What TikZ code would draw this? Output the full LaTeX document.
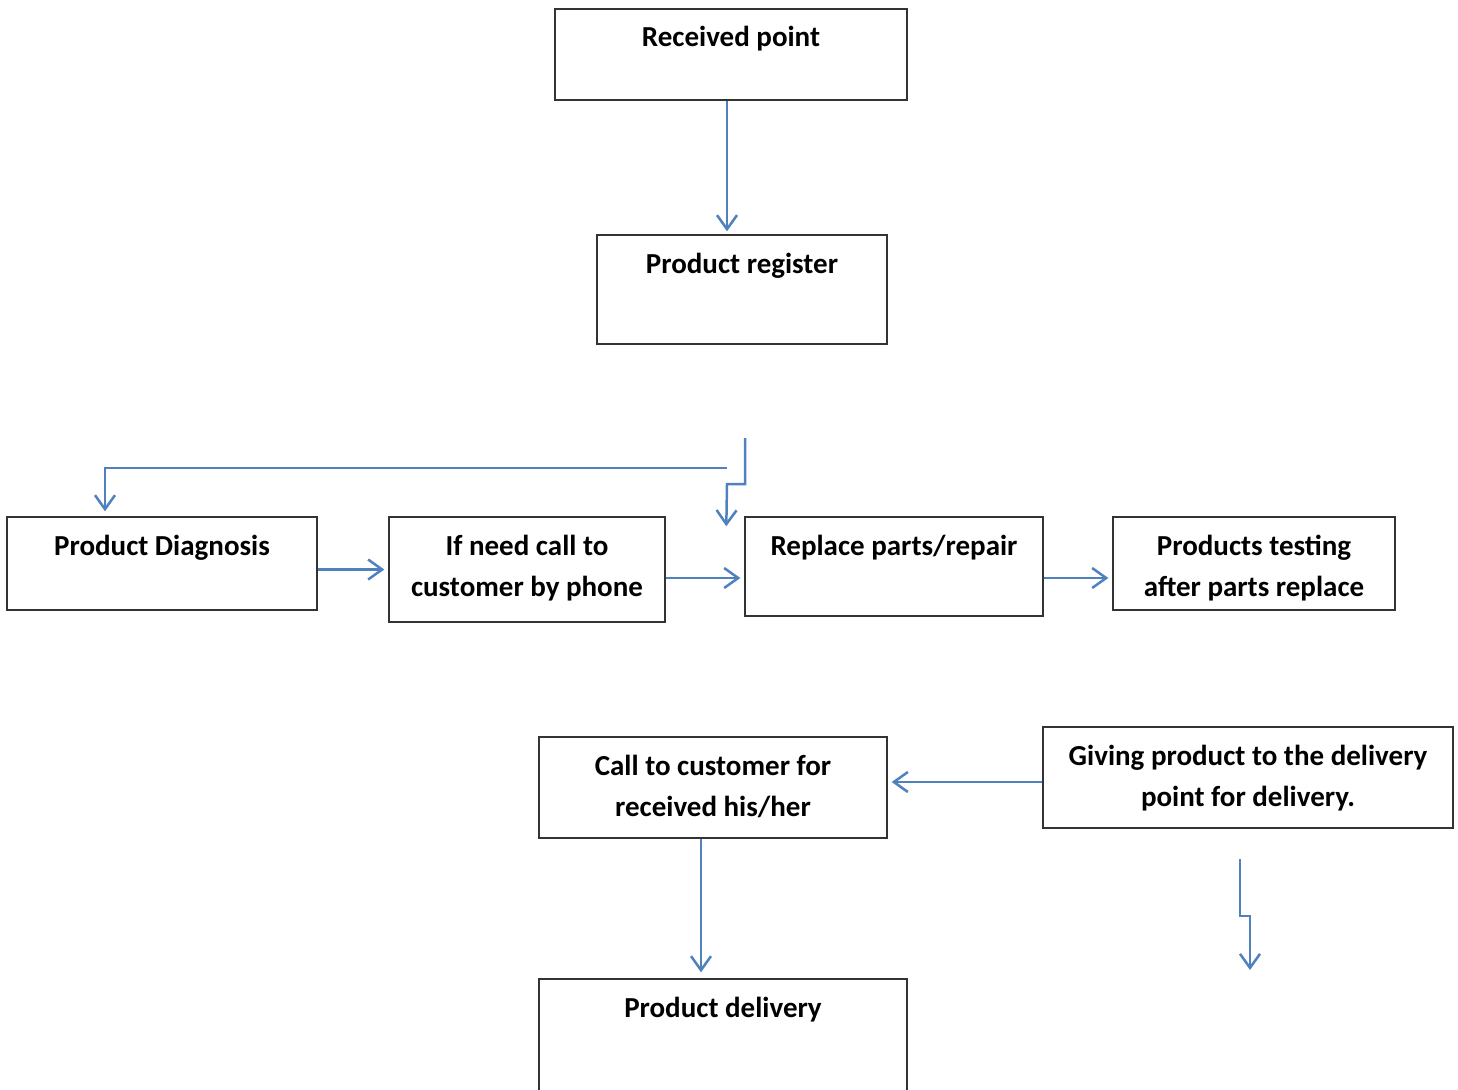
\documentclass[tikz,border=0pt]{standalone}
\usepackage{fontspec}
\setmainfont{Carlito}
\usepackage{tikz}
\usetikzlibrary{calc}
\usetikzlibrary{arrows.meta}
\usepackage{xcolor}
\definecolor{flowblue}{HTML}{4F81BD}
\newcommand{\boxlines}[3]{\parbox[c][#2pt][t]{#1pt}{\centering\rule{0pt}{38pt}#3}}

\begin{document}
\begin{tikzpicture}[x=1pt,y=-1pt]
    \tikzstyle{stepbox}=[draw,line width=1.4pt,black!80,text=black,inner sep=0pt,font=\fontsize{29}{41}\selectfont\bfseries]
    \tikzstyle{flow}=[draw,line width=2.5pt,flowblue,-{Straight Barb[length=14pt,width=20pt,line width=2.5pt]}]
    \tikzstyle{thinflow}=[flow,line width=1.5pt]
    \clip (0,0) rectangle (1458,1089);
    % boxes
    \node[stepbox] (recv) at (731,54.5) {\boxlines{352}{91}{Received point}};
    \node[stepbox] (reg) at (742,289.5) {\boxlines{290}{109}{Product register}};
    \node[stepbox] (diag) at (162,563.5) {\boxlines{310}{93}{Product Diagnosis}};
    \node[stepbox] (ifcall) at (527,569.5) {\boxlines{276}{105}{If need call to\\customer by phone}};
    \node[stepbox] (repl) at (894,566.5) {\boxlines{298}{99}{Replace parts/repair}};
    \node[stepbox] (test) at (1254,563.5) {\boxlines{282}{93}{Products testing\\after parts replace}};
    \node[stepbox] (call) at (713,787.5) {\boxlines{348}{101}{Call to customer for\\received his/her}};
    \node[stepbox] (give) at (1248,777.5) {\boxlines{410}{101}{Giving product to the delivery\\point for delivery.}};
    \node[stepbox] (deliv) at (723,1049) {\boxlines{368}{140}{Product delivery}};
    % free ends
    \coordinate (fork) at (727,468);
    \coordinate (zigtop) at (745,438);
    \coordinate (zigmid) at (727,484);
    \coordinate (endtop) at (1240,859);
    \coordinate (endmid) at (1250,916);
    \coordinate (endtip) at (1250,970);
    % connectors
    \draw[flow,shorten >=3pt] ([xshift=-4pt]recv.south) -- ([xshift=-4pt]recv.south |- reg.north);
    \draw[thinflow,shorten >=5pt] (fork) -| ([xshift=-57pt]diag.north);
    \draw[flow] (zigtop) |- (zigmid) -- ([xshift=-18pt,yshift=-10pt]repl.north west);
    \draw[flow,shorten >=4pt] (diag.east |- ifcall.west) -- (ifcall.west);
    \draw[flow,shorten >=4pt] ([yshift=-8.5pt]ifcall.east) -- ([yshift=-8.5pt]ifcall.east -| repl.west);
    \draw[flow,shorten >=4pt] ([yshift=-11.5pt]repl.east) -- ([yshift=-11.5pt]repl.east -| test.west);
    \draw[flow,shorten >=4pt] ([yshift=-4.5pt]give.west) -- ([yshift=-4.5pt]give.west -| call.east);
    \draw[flow,shorten >=6pt] ([xshift=-12pt]call.south) -- ([xshift=-12pt]call.south |- deliv.north);
    \draw[flow] (endtop) |- (endmid) -- (endtip);
\end{tikzpicture}
\end{document}
